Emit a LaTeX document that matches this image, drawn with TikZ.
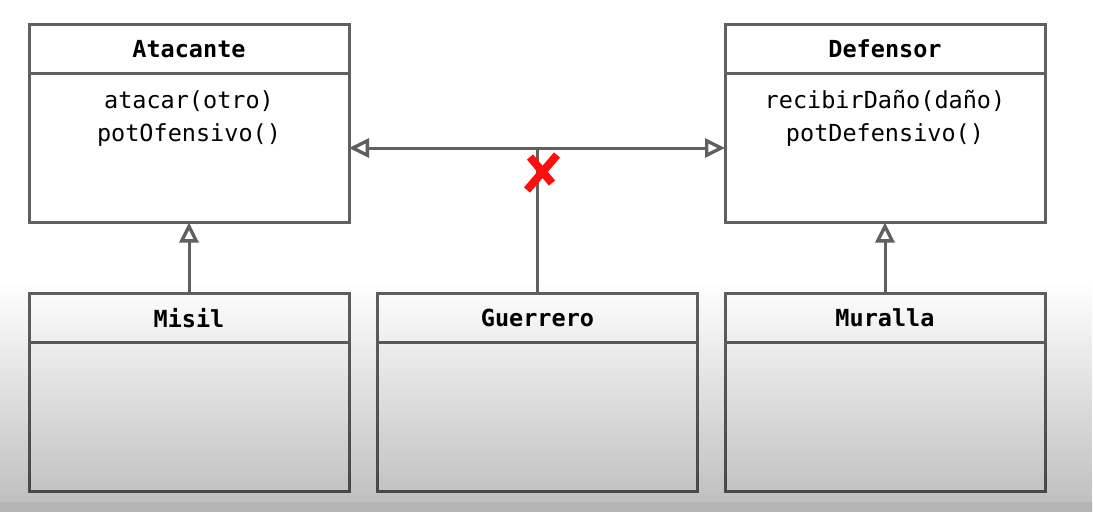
\documentclass[tikz,border=0pt]{standalone}
\usepackage{fontspec}
\setmonofont{DejaVu Sans Mono}
\usetikzlibrary{positioning,arrows.meta,fadings,calc}
\definecolor{linea}{RGB}{96,96,96}
\definecolor{tacha}{RGB}{255,12,12}
\tikzfading[name=oscurecer, top color=transparent!100, bottom color=transparent!0]
\tikzset{
	clase/.style={draw=linea, line width=3pt, minimum width=320pt, outer sep=0pt, inner sep=0pt},
	cabecera/.style={clase, minimum height=49pt, font=\ttfamily\bfseries\fontsize{23.5}{28}\selectfont},
	cuerpo/.style={clase, minimum height=149pt},
	metodos/.style={inner sep=0pt, align=center, anchor=north, font=\ttfamily\fontsize{23.5}{33}\selectfont},
	hereda/.style={draw=linea, line width=3pt, -{Triangle[open, length=20pt, width=19pt, line width=3.4pt]}}
}
\begin{document}
\begin{tikzpicture}[x=1pt,y=-1pt]
	\useasboundingbox (0,0) rectangle (1093,512);
	\fill[white] (0,0) rectangle (1093,512);
	% clases de arriba
	\node[cabecera] (atacante) at (189,49) {Atacante};
	\node[cuerpo, below=0pt of atacante] (atacanteB) {};
	\node[metodos] (atacanteM) at ($(atacanteB.north)+(0,17)$) {atacar(otro)\\potOfensivo()};
	\node[cabecera] (defensor) at (885,49) {Defensor};
	\node[cuerpo, below=0pt of defensor] (defensorB) {};
	\node[metodos] (defensorM) at ($(defensorB.north)+(0,17)$) {recibirDaño(daño)\\potDefensivo()};
	% clases de abajo
	\foreach \n/\x/\t in {misil/189/Misil, guerrero/537.5/Guerrero, muralla/885/Muralla}{
		\node[cabecera] (\n) at (\x,318) {\t};
		\node[cuerpo, below=0pt of \n] (\n B) {};
	}
	% relaciones
	\coordinate (union) at (guerrero.north |- atacanteB.east);
	\draw[hereda] (union) -- (atacanteB.east);
	\draw[hereda] (union) -- (defensorB.west);
	\draw[draw=linea, line width=3pt] (guerrero.north) -- (union);
	\draw[hereda] (misil.north) -- (atacanteB.south);
	\draw[hereda] (muralla.north) -- (defensorB.south);
	% la cruz roja
	\coordinate (cruz) at (541,173);
	\draw[tacha, line width=8pt] ($(cruz)+(-11,-16)$) -- ($(cruz)+(11,10)$)
		($(cruz)+(16,-18)$) -- ($(cruz)+(-14,17)$);
	% sombra de abajo
	\fill[black, opacity=0.26, path fading=oscurecer] (0,282) rectangle (1093,512);
	\fill[black, opacity=0.05] (0,502) rectangle (1093,512);
\end{tikzpicture}
\end{document}
